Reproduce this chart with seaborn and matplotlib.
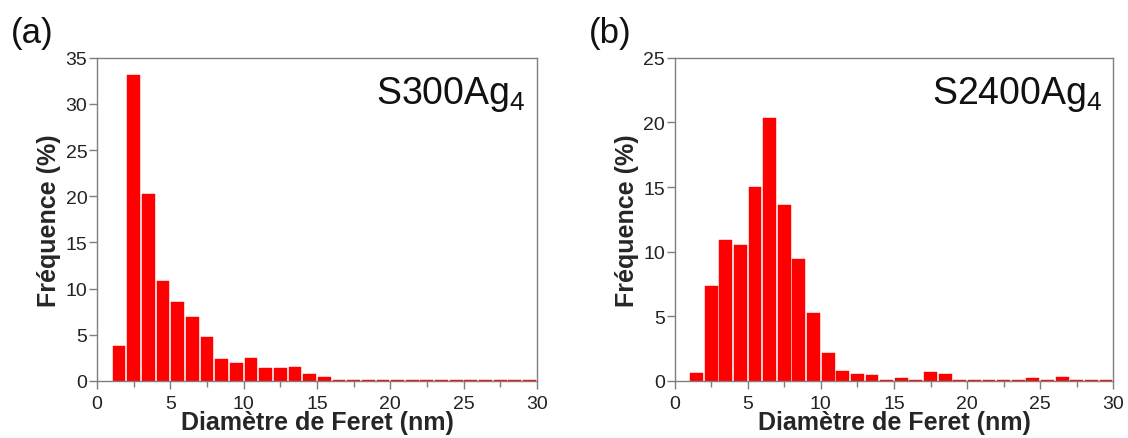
import numpy as np
import pandas as pd
import seaborn as sns
import matplotlib
matplotlib.use("Agg")
import matplotlib.pyplot as plt
from matplotlib.ticker import MultipleLocator

# Bin left edges (nm), 1 nm bins from 1 to 30
bin_left = list(range(1, 30))

freq_s300 = [3.75, 33.1, 20.2, 10.8, 8.56, 6.93, 4.77, 2.42, 1.99, 2.49,
             1.44, 1.44, 1.52, 0.79, 0.43, 0.08, 0.08, 0.14, 0.08, 0.08,
             0.14, 0.08, 0.08, 0.08, 0.08, 0.08, 0.08, 0.08, 0.08]

freq_s2400 = [0.65, 7.33, 10.89, 10.5, 15.02, 20.38, 13.65, 9.42, 5.29, 2.17,
              0.75, 0.54, 0.49, 0.10, 0.23, 0.10, 0.72, 0.54, 0.06, 0.06,
              0.06, 0.06, 0.06, 0.23, 0.06, 0.34, 0.06, 0.06, 0.06]

panels = ["(a)", "(b)"]
samples = ["S300Ag$_4$", "S2400Ag$_4$"]
ymax = [35, 25]
xlabel = "Diamètre de Feret (nm)"
ylabel = "Fréquence (%)"

sns.set_theme(style="white")
plt.rcParams['font.family'] = ['Liberation Sans', 'DejaVu Sans']
plt.rcParams['mathtext.fontset'] = 'custom'
plt.rcParams['mathtext.rm'] = 'Liberation Sans'
plt.rcParams['mathtext.it'] = 'Liberation Sans'

fig = plt.figure(figsize=(11.28, 4.39), dpi=100)
ax_pos = [[0.086, 0.130, 0.390, 0.736], [0.598, 0.130, 0.389, 0.736]]
grey = "#7f7f7f"

for i, freqs in enumerate([freq_s300, freq_s2400]):
    ax = fig.add_axes(ax_pos[i])
    df = pd.DataFrame({"d": np.array(bin_left, dtype=float) + 0.5,
                       "f": np.array(freqs, dtype=float)})
    sns.histplot(data=df, x="d", weights="f", binwidth=1, binrange=(1, 30),
                 ax=ax, color="#ff0000", alpha=1, shrink=0.88,
                 edgecolor="#ff0000", linewidth=0.3)
    ax.set_xlim(0, 30)
    ax.set_ylim(0, ymax[i])
    ax.xaxis.set_major_locator(MultipleLocator(5))
    ax.xaxis.set_minor_locator(MultipleLocator(2.5))
    ax.yaxis.set_major_locator(MultipleLocator(5))
    for s in ax.spines.values():
        s.set_color(grey)
        s.set_linewidth(1.0)
    ax.tick_params(axis="both", which="major", direction="out", length=6,
                   width=1, color=grey, labelsize=14, labelcolor="#222222",
                   bottom=True, left=True)
    ax.tick_params(axis="x", which="major", pad=4)
    ax.tick_params(axis="y", which="major", pad=1)
    ax.tick_params(axis="x", which="minor", direction="out", length=4,
                   width=1, color=grey, bottom=True)
    ax.set_xlabel(xlabel, fontsize=18, fontweight="bold", labelpad=-1)
    ax.set_ylabel(ylabel, fontsize=18, fontweight="bold", labelpad=3)
    ax.text(0.975, 0.95, samples[i], transform=ax.transAxes, ha="right",
            va="top", fontsize=27, color="#111111")
    fx = ax_pos[i][0] - 0.076
    fig.text(fx, 0.962, panels[i], fontsize=25, va="top", ha="left",
             color="#111111")

fig.savefig("out.png", dpi=100)
